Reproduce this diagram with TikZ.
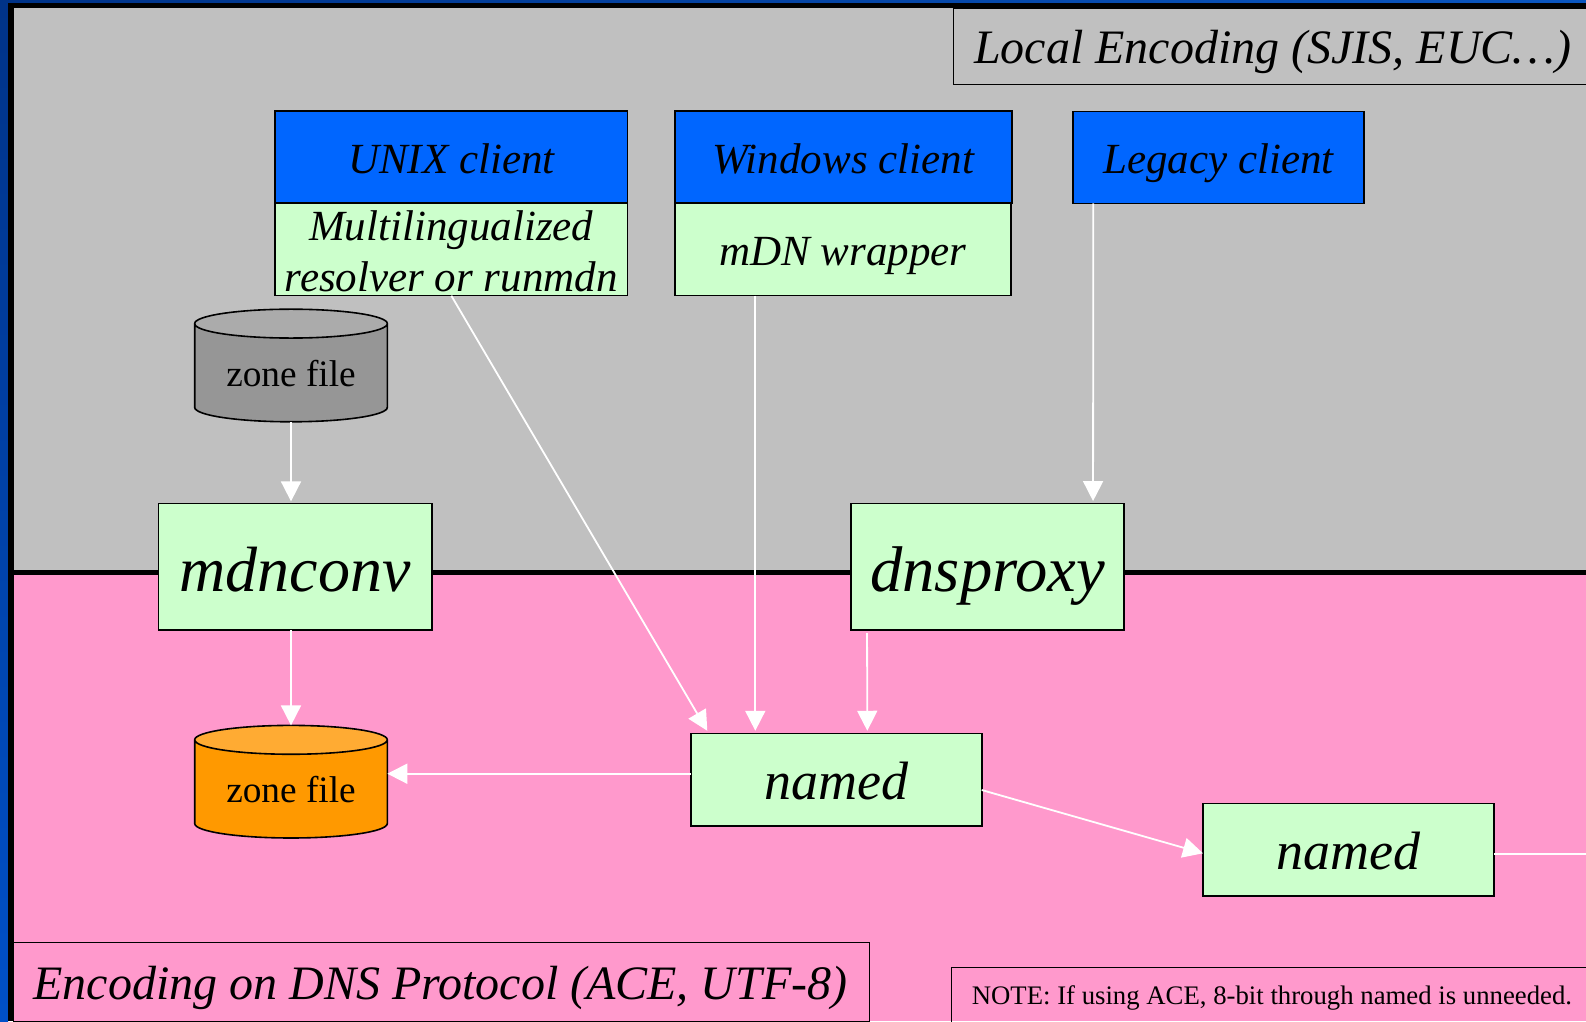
\documentclass[tikz,border=0pt]{standalone}
\usepackage{fontspec}
\setmainfont{Liberation Serif}
\usepackage{xcolor}
\definecolor{slideDark}{HTML}{003388}
\definecolor{slideLeft}{HTML}{0050C8}
\definecolor{slideTop}{HTML}{0A56C0}
\definecolor{localGray}{HTML}{C0C0C0}
\definecolor{protoPink}{HTML}{FF99CC}
\definecolor{toolGreen}{HTML}{CCFFCC}
\definecolor{clientBlue}{HTML}{0066FF}
\definecolor{zoneGray}{HTML}{969696}
\definecolor{zoneGrayTop}{HTML}{ABABAB}
\definecolor{zoneOrange}{HTML}{FF9900}
\definecolor{zoneOrangeTop}{HTML}{FFAB33}
\usetikzlibrary{shapes.geometric,arrows.meta,positioning}
\tikzset{
    boxbase/.style={
        draw=black,
        rectangle,
        line width=1.6pt,
        inner sep=0pt,
        outer sep=0pt,
        align=center,
        text depth=0pt,
        font=\fontsize{43}{51.7}\selectfont\itshape
    },
    client/.style={
        boxbase,
        fill=clientBlue,
        minimum height=92pt,
        text height=32.6pt
    },
    resolver/.style={
        boxbase,
        fill=toolGreen,
        minimum height=92.5pt,
        text height=31.4pt
    },
    bigtool/.style={
        boxbase,
        fill=toolGreen,
        minimum width=273.5pt,
        minimum height=126.7pt,
        text height=48.6pt,
        font=\fontsize{64.6}{70}\selectfont\itshape
    },
    server/.style={
        boxbase,
        fill=toolGreen,
        minimum width=291pt,
        minimum height=92.7pt,
        text height=40.4pt,
        font=\fontsize{54}{60}\selectfont\itshape
    },
    zonefile/.style={
        draw=black,
        cylinder,
        shape border rotate=90,
        aspect=0.223,
        line width=1.6pt,
        inner sep=0pt,
        outer sep=0pt,
        minimum width=192.6pt,
        minimum height=112.6pt,
        cylinder uses custom fill,
        font=\fontsize{37.3}{40}\selectfont
    },
    flow/.style={
        -{Triangle[length=20pt,width=20pt]},
        white,
        line width=1.8pt
    },
    tagbox/.style={
        draw=black,
        line width=1.4pt
    },
    tagtext/.style={
        anchor=base west,
        inner sep=0pt,
        font=\fontsize{48}{52}\selectfont\itshape
    }
}

\begin{document}
\begin{tikzpicture}[x=1pt,y=-1pt]
    \path[use as bounding box,clip] (0,0) rectangle (1586,1021);

    % Slide background and the two areas
    \shade[top color=slideDark,bottom color=slideLeft] (0,0) rectangle (8,1021);
    \shade[left color=slideDark,right color=slideTop] (0,0) rectangle (1586,3);
    \fill[black] (8,3) rectangle (1586,1021);
    \fill[localGray] (13.5,8) rectangle (1586,570);
    \fill[black] (13.5,570) rectangle (1586,575.3);
    \fill[protoPink] (13.5,575.3) rectangle (1586,1021);

    % Area tags
    \draw[tagbox] (953.4,8) rectangle (1620,84.5);
    \node[tagtext] (localtag) at (974,63.5) {Local Encoding (SJIS, EUC\ldots)};
    \draw[tagbox] (13.5,942.7) rectangle (869.3,1021.2);
    \node[tagtext] (prototag) at (33.3,999.5) {Encoding on DNS Protocol (ACE, UTF-8)};
    \draw[tagbox] (951.7,967.7) rectangle (1620,1040);
    \node[anchor=base west,inner sep=0pt,font=\fontsize{26.75}{30}\selectfont] (notetag) at (971.6,1004.7)
        {NOTE: If using ACE, 8-bit through named is unneeded.};

    % Clients
    \node[resolver,minimum width=352.7pt,text height=84.6pt] (unixres) at (451.3,249.4)
        {Multilingualized\\resolver or runmdn};
    \node[client,minimum width=352.7pt] (unix) at (451.3,157) {UNIX client};
    \node[resolver,minimum width=336.4pt] (winres) at (842.9,249.4) {mDN wrapper};
    \node[client,minimum width=337pt] (win) at (843.2,157) {Windows client};
    \node[client,minimum width=291pt,text height=31.4pt] (legacy) at (1218.5,157.3) {Legacy client};

    % Converters and servers
    \node[bigtool,font=\fontsize{64}{70}\selectfont\itshape] (mdnconv) at (295.3,566.7) {mdnconv};
    \node[bigtool] (dnsproxy) at (987.5,566.7) {dnsproxy};
    \node[server] (named1) at (836.2,779.7) {named};
    \node[server] (named2) at (1348.5,849.7) {named};

    % Zone files
    \node[zonefile,cylinder body fill=zoneGray,cylinder end fill=zoneGrayTop] (srczone) at (291,373.1) {zone file};
    \node[zonefile,cylinder body fill=zoneOrange,cylinder end fill=zoneOrangeTop] (dstzone) at (291,789.3) {zone file};

    % Connectors
    \coordinate (offpage) at (1586,853.7);
    \coordinate[yshift=6pt] (namedout) at (named1.west);
    \draw[flow] (srczone.south) -- ([yshift=2pt]srczone.south |- mdnconv.north);
    \draw[flow] (srczone.south |- mdnconv.south) -- (dstzone.north);
    \draw[flow] (unixres.south) -- ([xshift=16.6pt,yshift=2.6pt]named1.north west);
    \draw[flow] ([xshift=80.6pt]winres.south west) -- ([xshift=64.6pt,yshift=2.6pt]named1.north west);
    \draw[flow] ([xshift=16.3pt,yshift=-3pt]dnsproxy.south west) -- ([xshift=176.6pt,yshift=2.6pt]named1.north west);
    \draw[flow] ([xshift=20.3pt]legacy.south west) -- ([xshift=242.3pt,yshift=2.3pt]dnsproxy.north west);
    \draw[flow] (namedout) -- (namedout -| dstzone.east);
    \draw[flow] ([yshift=-10.3pt]named1.east) -- ([yshift=-3.6pt]named2.west);
    \draw[white,line width=1.8pt] ([yshift=-4pt]named2.east) -- (offpage);
\end{tikzpicture}
\end{document}
